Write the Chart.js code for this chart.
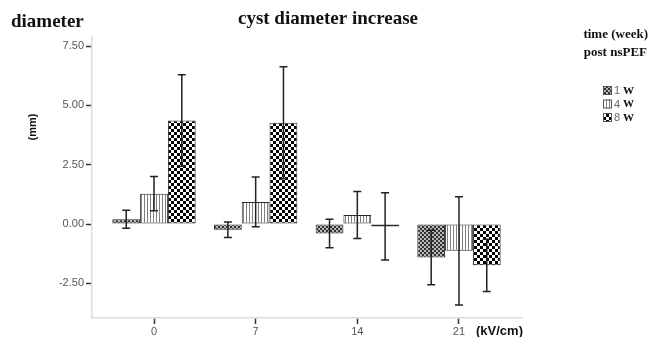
<!DOCTYPE html>
<html>
<head>
<meta charset="utf-8">
<script src="https://cdn.jsdelivr.net/npm/chart.js@4.4.1/dist/chart.umd.min.js"></script>
<style>
  html, body { margin: 0; padding: 0; background: #fff; }
  #wrap { width: 649px; height: 337px; }
</style>
</head>
<body>
<div id="wrap"><canvas id="cyst"></canvas></div>
<script>
// field strength groups (kV/cm) and weeks post nsPEF
var kvLabels = [0, 7, 14, 21];
var seriesNames = ['1 W', '4 W', '8 W'];
var yTicks = [-2.5, 0, 2.5, 5, 7.5];

// mean diameter increase (mm) and error (+/-)
var week1Mean = [0.20, -0.24, -0.40, -1.41];
var week1Err  = [0.38, 0.33, 0.60, 1.15];
var week4Mean = [1.28, 0.93, 0.38, -1.13];
var week4Err  = [0.72, 1.05, 0.99, 2.28];
var week8Mean = [4.36, 4.27, -0.10, -1.74];
var week8Err  = [1.93, 2.36, 1.42, 1.10];

function makePattern(kind) {
    var c = document.createElement('canvas');
    var g = c.getContext('2d');
    if (kind === 'fine') {
        c.width = 4; c.height = 4;
        g.fillStyle = '#b8b8b8'; g.fillRect(0, 0, 4, 4);
        g.fillStyle = '#333333';
        g.fillRect(0, 0, 2, 2); g.fillRect(2, 2, 2, 2);
    } else if (kind === 'stripe') {
        c.width = 3; c.height = 3;
        g.fillStyle = '#ffffff'; g.fillRect(0, 0, 3, 3);
        g.fillStyle = '#808080'; g.fillRect(0, 0, 1, 3);
    } else {
        c.width = 6; c.height = 6;
        g.fillStyle = '#ffffff'; g.fillRect(0, 0, 6, 6);
        g.fillStyle = '#000000';
        g.fillRect(0, 0, 3, 3); g.fillRect(3, 3, 3, 3);
    }
    return document.getElementById('cyst').getContext('2d').createPattern(c, 'repeat');
}

var patterns = [makePattern('fine'), makePattern('stripe'), makePattern('check')];
var means = [week1Mean, week4Mean, week8Mean];
var errs = [week1Err, week4Err, week8Err];

function toPoints(arr) {
    return kvLabels.map(function (kv, i) { return { x: kv, y: arr[i] }; });
}

// draws error bars, titles and the legend on top of the bars
var extrasPlugin = {
    id: 'extras',
    afterDatasetsDraw: function (chart) {
        var ctx = chart.ctx;
        var y = chart.scales.y;
        ctx.save();
        ctx.strokeStyle = '#222';
        ctx.lineWidth = 1.5;
        chart.data.datasets.forEach(function (ds, di) {
            var meta = chart.getDatasetMeta(di);
            meta.data.forEach(function (bar, i) {
                var m = means[di][i], e = errs[di][i];
                var top = y.getPixelForValue(m + e);
                var bot = y.getPixelForValue(m - e);
                ctx.beginPath();
                ctx.moveTo(bar.x, top); ctx.lineTo(bar.x, bot);
                ctx.moveTo(bar.x - 4, top); ctx.lineTo(bar.x + 4, top);
                ctx.moveTo(bar.x - 4, bot); ctx.lineTo(bar.x + 4, bot);
                ctx.stroke();
            });
        });
        ctx.restore();
    },
    afterDraw: function (chart) {
        var ctx = chart.ctx;
        ctx.save();
        ctx.fillStyle = '#111';
        ctx.textBaseline = 'alphabetic';
        ctx.font = 'bold 19px "Liberation Serif"';
        ctx.textAlign = 'left';
        ctx.fillText('diameter', 11, 27);
        ctx.textAlign = 'center';
        ctx.fillText('cyst diameter increase', 328, 24);

        ctx.font = 'bold 11px "Liberation Sans"';
        ctx.save();
        ctx.translate(33, 127);
        ctx.rotate(-Math.PI / 2);
        ctx.textBaseline = 'middle';
        ctx.fillText('(mm)', 0, 0);
        ctx.restore();

        ctx.font = 'bold 13px "Liberation Sans"';
        ctx.textAlign = 'left';
        ctx.textBaseline = 'middle';
        ctx.fillText('(kV/cm)', 476, 331);

        ctx.font = 'bold 13px "Liberation Serif"';
        ctx.textAlign = 'right';
        ctx.fillText('time (week)', 648, 35);
        ctx.fillText('post nsPEF', 647, 53);

        seriesNames.forEach(function (name, i) {
            var ly = 91 + i * 13.5;
            ctx.fillStyle = patterns[i];
            ctx.fillRect(603, ly - 5, 9, 9);
            ctx.strokeStyle = '#555';
            ctx.lineWidth = 1;
            ctx.strokeRect(603.5, ly - 4.5, 8, 8);
            ctx.textAlign = 'left';
            ctx.fillStyle = '#666';
            ctx.font = '11px "Liberation Sans"';
            ctx.fillText(name.split(' ')[0], 614, ly);
            ctx.fillStyle = '#111';
            ctx.font = 'bold 11px "Liberation Serif"';
            ctx.fillText(name.split(' ')[1], 623, ly);
        });
        ctx.restore();
    }
};

new Chart(document.getElementById('cyst'), {
    type: 'bar',
    data: {
        datasets: seriesNames.map(function (name, i) {
            return {
                label: name,
                data: toPoints(means[i]),
                backgroundColor: patterns[i],
                borderColor: '#2a2a2a',
                borderWidth: 1,
                borderSkipped: false
            };
        })
    },
    options: {
        responsive: true,
        maintainAspectRatio: false,
        animation: false,
        categoryPercentage: 0.82,
        barPercentage: 1.0,
        layout: { padding: { top: 37, right: 127, bottom: 0, left: 0 } },
        plugins: {
            legend: { display: false },
            title: { display: false },
            tooltip: { enabled: false }
        },
        scales: {
            x: {
                type: 'linear',
                offset: false,
                min: -4.27,
                max: 25.34,
                afterBuildTicks: function (scale) {
                    scale.ticks = kvLabels.map(function (v) { return { value: v }; });
                },
                afterFit: function (scale) { scale.height = 19; },
                grid: { drawOnChartArea: false, offset: false, tickLength: 6, tickColor: '#333', tickWidth: 1.5 },
                border: { color: '#dcdcdc', width: 1.5 },
                ticks: {
                    color: '#555',
                    padding: 1,
                    font: { family: 'Liberation Sans', size: 11 },
                    callback: function (v) { return String(v); }
                }
            },
            y: {
                min: -3.96,
                max: 7.88,
                afterBuildTicks: function (scale) {
                    scale.ticks = yTicks.map(function (v) { return { value: v }; });
                },
                afterFit: function (scale) { scale.width = 92; },
                grid: { drawOnChartArea: false, tickLength: 6, tickColor: '#333', tickWidth: 1.5 },
                border: { color: '#dcdcdc', width: 1.5 },
                ticks: {
                    color: '#555',
                    padding: 2,
                    font: { family: 'Liberation Sans', size: 11 },
                    callback: function (v) { return v.toFixed(2); }
                }
            }
        }
    },
    plugins: [extrasPlugin]
});
</script>
</body>
</html>
